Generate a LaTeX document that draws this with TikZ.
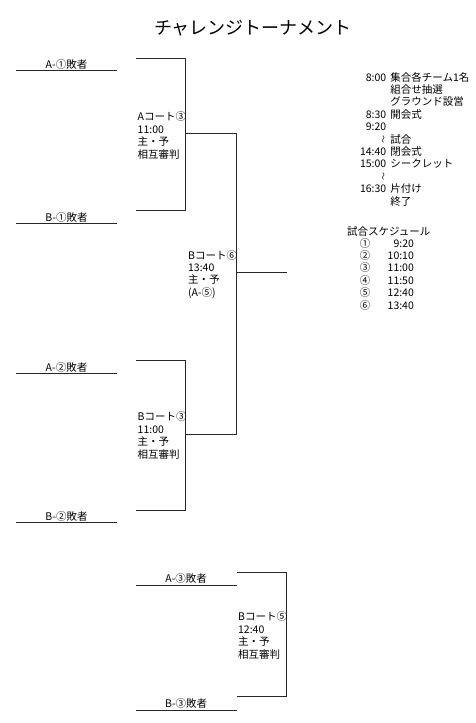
\documentclass[tikz,border=0pt]{standalone}
\usepackage{fontspec}
\setmainfont{Noto Sans CJK JP}
\usetikzlibrary{positioning}

\newcommand{\waveDash}{\rotatebox{90}{\fontsize{8}{8}\selectfont ～}}
\newcommand{\firstline}{\rule{0pt}{9pt}}

\begin{document}
\begin{tikzpicture}[x=1pt, y=-1pt, line width=0.8pt, draw=black!85,
    every node/.style={inner sep=0pt, font=\fontsize{10.5}{12.4}\selectfont},
    loser/.style={midway, above=1pt},
    court/.style={anchor=north west, align=left}]
        \useasboundingbox (0,0) rectangle (475,723);

        % Title
        \node[font=\fontsize{18}{20}\selectfont] (title) at (253,28) {チャレンジトーナメント};

        % Line ends of the losers
        \coordinate (A1l) at (16,70.7);    \coordinate (A1r) at (117,70.7);
        \coordinate (B1l) at (16,223.3);   \coordinate (B1r) at (117,223.3);
        \coordinate (A2l) at (16,373.3);   \coordinate (A2r) at (117,373.3);
        \coordinate (B2l) at (16,522.7);   \coordinate (B2r) at (117,522.7);
        \coordinate (A3l) at (135.7,585);  \coordinate (A3r) at (236.7,585);
        \coordinate (B3l) at (135.7,710);  \coordinate (B3r) at (236.7,710);

        % Losers
        \draw (A1l) -- (A1r) node[loser] (A1) {A-①敗者};
        \draw (B1l) -- (B1r) node[loser] (B1) {B-①敗者};
        \draw (A2l) -- (A2r) node[loser] (A2) {A-②敗者};
        \draw (B2l) -- (B2r) node[loser] (B2) {B-②敗者};
        \draw (A3l) -- (A3r) node[loser] (A3) {A-③敗者};
        \draw (B3l) -- (B3r) node[loser] (B3) {B-③敗者};

        % Bracket corners
        \coordinate (ac3tl) at (135.7,58.3);  \coordinate (ac3tr) at (185.7,58.3);
        \coordinate (ac3bl) at (135.7,210.7); \coordinate (ac3br) at (185.7,210.7);
        \coordinate (ac3m)  at (185.7,133.3);
        \coordinate (bc3tl) at (135.7,360.7); \coordinate (bc3tr) at (185.7,360.7);
        \coordinate (bc3bl) at (135.7,510);   \coordinate (bc3br) at (185.7,510);
        \coordinate (bc3m)  at (185.7,434.3);
        \coordinate (bc6t)  at (236.7,133.3); \coordinate (bc6b) at (236.7,434.3);
        \coordinate (bc6m)  at (236.7,272.7); \coordinate (bc6out) at (286.7,272.7);
        \coordinate (bc5tl) at (236.7,572.3); \coordinate (bc5tr) at (286.7,572.3);
        \coordinate (bc5bl) at (236.7,696.7); \coordinate (bc5br) at (286.7,696.7);

        % Brackets
        \draw (ac3tl) -- (ac3tr) -- (ac3br) -- (ac3bl);
        \draw (ac3m) -- (bc6t);
        \draw (bc3tl) -- (bc3tr) -- (bc3br) -- (bc3bl);
        \draw (bc3m) -- (bc6b);
        \draw (bc6t) -- (bc6b);
        \draw (bc6m) -- (bc6out);
        \draw (bc5tl) -- (bc5tr) -- (bc5br) -- (bc5bl);

        % Courts
        \node[court] (ac3) at (137.3,111.6) {Aコート③\\11:00\\主・予\\相互審判};
        \node[court] (bc6) at (187.7,249.9) {Bコート⑥\\13:40\\主・予\\(A-⑤)};
        \node[court] (bc3) at (137.3,411.6) {Bコート③\\11:00\\主・予\\相互審判};
        \node[court] (bc5) at (237.7,611.6) {Bコート⑤\\12:40\\主・予\\相互審判};

        % Day programme
        \node[anchor=north east, align=right] (times) at (386.7,71.7)
            {\firstline 8:00\\ \\ \\8:30\\9:20\\\waveDash\hspace{8.7pt}\\14:40\\15:00\\\waveDash\hspace{12.7pt}\\16:30\\ };
        \node[anchor=north west, align=left] (items) at ([xshift=3.3pt]times.north east)
            {\firstline 集合各チーム1名\\組合せ抽選\\グラウンド設営\\開会式\\ \\試合\\閉会式\\シークレット\\ \\片付け\\終了};

        % Match schedule
        \node[anchor=north west] (sched) at (346.7,226) {\firstline 試合スケジュール};
        \node[anchor=north, align=center] (nums) at (365,237.7)
            {\firstline ①\\②\\③\\④\\⑤\\⑥};
        \node[anchor=north east, align=right] (hours) at (414.3,237.7)
            {\firstline 9:20\\10:10\\11:00\\11:50\\12:40\\13:40};
\end{tikzpicture}
\end{document}
